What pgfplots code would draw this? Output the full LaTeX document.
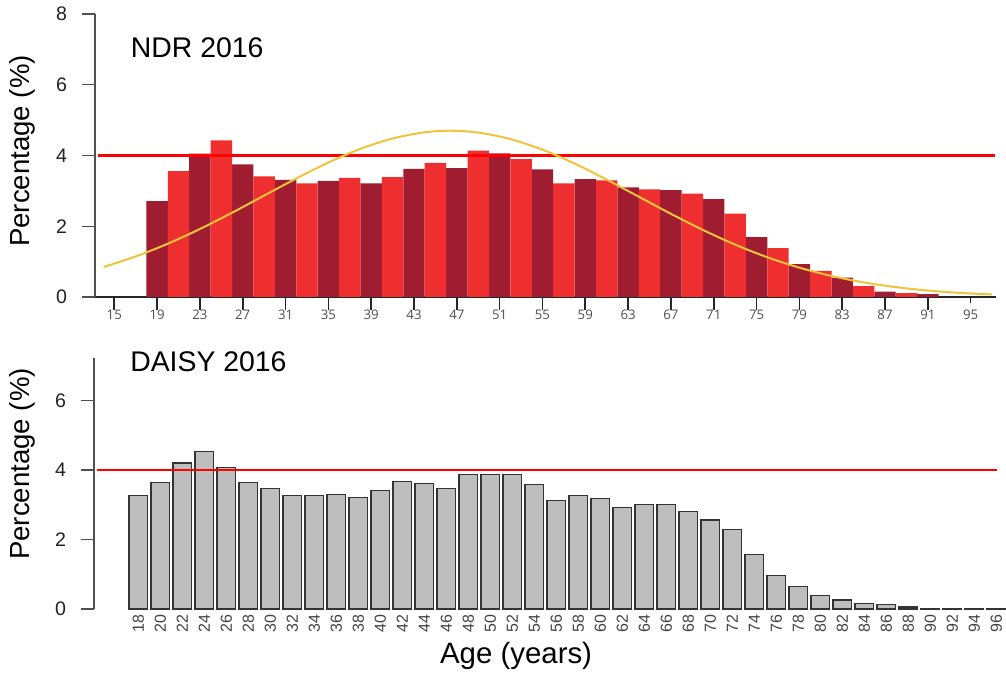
\documentclass[border=0pt]{standalone}
\usepackage{fontspec}
\setmainfont{Liberation Sans}
\newfontfamily\osans{Open Sans}
\usepackage{pgfplots}
\pgfplotsset{compat=1.18}
\definecolor{darkred}{HTML}{A01C30}
\definecolor{brightred}{HTML}{EE2E2F}
\definecolor{gold}{HTML}{F0C43A}
\definecolor{axgray}{HTML}{505050}
\definecolor{bargray}{HTML}{BEBEBE}
\definecolor{txt}{HTML}{222222}
\begin{document}
\begin{tikzpicture}
% ---------------- top panel ----------------
\begin{axis}[
  at={(47.5pt,189pt)}, anchor=south west,
  x=5.3525pt, y=17.6875pt,
  xmin=13.2, xmax=97.4, ymin=0, ymax=8,
  enlargelimits=false,
  axis x line=bottom, axis y line=left,
  x axis line style={-, line width=1.1pt, color=black!85},
  y axis line style={-, line width=0.6pt, color=axgray},
  tick align=outside,
  major tick length=6.5pt,
  xtick={15,19,...,95},
  ytick={0,2,4,6,8},
  xtick style={line width=0.8pt, color=black!85, shorten <=3.5pt},
  ytick style={line width=0.6pt, color=axgray},
  /pgf/number format/assume math mode=true,
  xticklabel style={font=\osans\fontsize{6.6}{7}\selectfont, color=txt!80, yshift=3.5pt},
  yticklabel style={font=\fontsize{9.8}{11}\selectfont, color=txt, xshift=-4pt},
  ylabel={Percentage (\%)},
  ylabel style={at={(axis description cs:-0.0805,0.516)}, anchor=center, rotate=0, font=\fontsize{13.8}{15}\selectfont},
  clip=false,
]
\addplot[ybar, bar width=2, bar shift=0pt, fill=darkred, draw=none] coordinates {
 (19,2.71) (23,4.05) (27,3.75) (31,3.31) (35,3.28) (39,3.21) (43,3.62) (47,3.64)
 (51,4.06) (55,3.61) (59,3.33) (63,3.10) (67,3.02) (71,2.77) (75,1.69) (79,0.93)
 (83,0.55) (87,0.15) (91,0.08)};
\addplot[ybar, bar width=2, bar shift=0pt, fill=brightred, draw=none] coordinates {
 (21,3.56) (25,4.43) (29,3.41) (33,3.21) (37,3.37) (41,3.39) (45,3.79) (49,4.14)
 (53,3.90) (57,3.21) (61,3.30) (65,3.04) (69,2.92) (73,2.36) (77,1.38) (81,0.74)
 (85,0.31) (89,0.11)};
\addplot[red, line width=1.4pt] coordinates {(13.5,4) (97.3,4)};
\addplot[gold, line width=1pt, smooth] coordinates {
 (14,0.847) (17,1.147) (20,1.506) (23,1.922) (26,2.382) (29,2.867) (32,3.350)
 (35,3.801) (38,4.189) (41,4.481) (44,4.656) (46.4,4.700) (49,4.648) (52,4.465)
 (55,4.165) (58,3.773) (61,3.318) (64,2.835) (67,2.351) (70,1.893) (73,1.480)
 (76,1.124) (79,0.829) (82,0.594) (85,0.413) (88,0.279) (91,0.183) (94,0.116)
 (97,0.072)};
\node[anchor=west, font=\fontsize{14.2}{16}\selectfont] at (rel axis cs:0.032,0.88) {NDR 2016};
\end{axis}
% ---------------- bottom panel ----------------
\begin{axis}[
  at={(47pt,33pt)}, anchor=south west,
  x=5.5pt, y=17.375pt,
  xmin=13.97, xmax=96.9, ymin=0, ymax=7.22,
  enlargelimits=false,
  axis x line=bottom, axis y line=left,
  x axis line style={draw=none},
  y axis line style={-, line width=0.6pt, color=axgray},
  tick align=outside,
  major tick length=6.5pt,
  xtick={18,20,...,96},
  ytick={0,2,4,6},
  xtick style={draw=none},
  ytick style={line width=0.6pt, color=axgray},
  /pgf/number format/assume math mode=true,
  xticklabel shift={-7pt},
  xticklabel style={rotate=90, anchor=east, font=\fontsize{8}{9}\selectfont, color=txt!85},
  yticklabel style={font=\fontsize{9.8}{11}\selectfont, color=txt, xshift=-4pt},
  ylabel={Percentage (\%)},
  ylabel style={at={(axis description cs:-0.0784,0.578)}, anchor=center, rotate=0, font=\fontsize{13.8}{15}\selectfont},
  xlabel={Age (years)},
  xlabel style={at={(axis description cs:0.4627,-0.187)}, anchor=center, font=\fontsize{14.7}{16}\selectfont},
  clip=false,
]
\addplot[ybar, bar width=1.7, bar shift=0pt, fill=bargray, draw=black!80, line width=0.6pt] coordinates {
 (18,3.26) (20,3.65) (22,4.20) (24,4.53) (26,4.07) (28,3.65) (30,3.47) (32,3.26)
 (34,3.26) (36,3.30) (38,3.22) (40,3.40) (42,3.68) (44,3.61) (46,3.47) (48,3.88)
 (50,3.88) (52,3.88) (54,3.58) (56,3.13) (58,3.26) (60,3.19) (62,2.92) (64,3.01)
 (66,3.01) (68,2.81) (70,2.56) (72,2.28) (74,1.56) (76,0.96) (78,0.64) (80,0.40)
 (82,0.26) (84,0.16) (86,0.12) (88,0.06) (90,0.02) (92,0.02) (94,0.02) (96,0.005)};
\addplot[red, line width=1.4pt] coordinates {(14.2,4) (96.06,4)};
\node[anchor=west, font=\fontsize{14.2}{16}\selectfont] at (rel axis cs:0.032,0.984) {DAISY 2016};
\end{axis}
\pgfresetboundingbox
\path (0pt,0pt) rectangle (503pt,337.5pt);
\end{tikzpicture}
\end{document}
